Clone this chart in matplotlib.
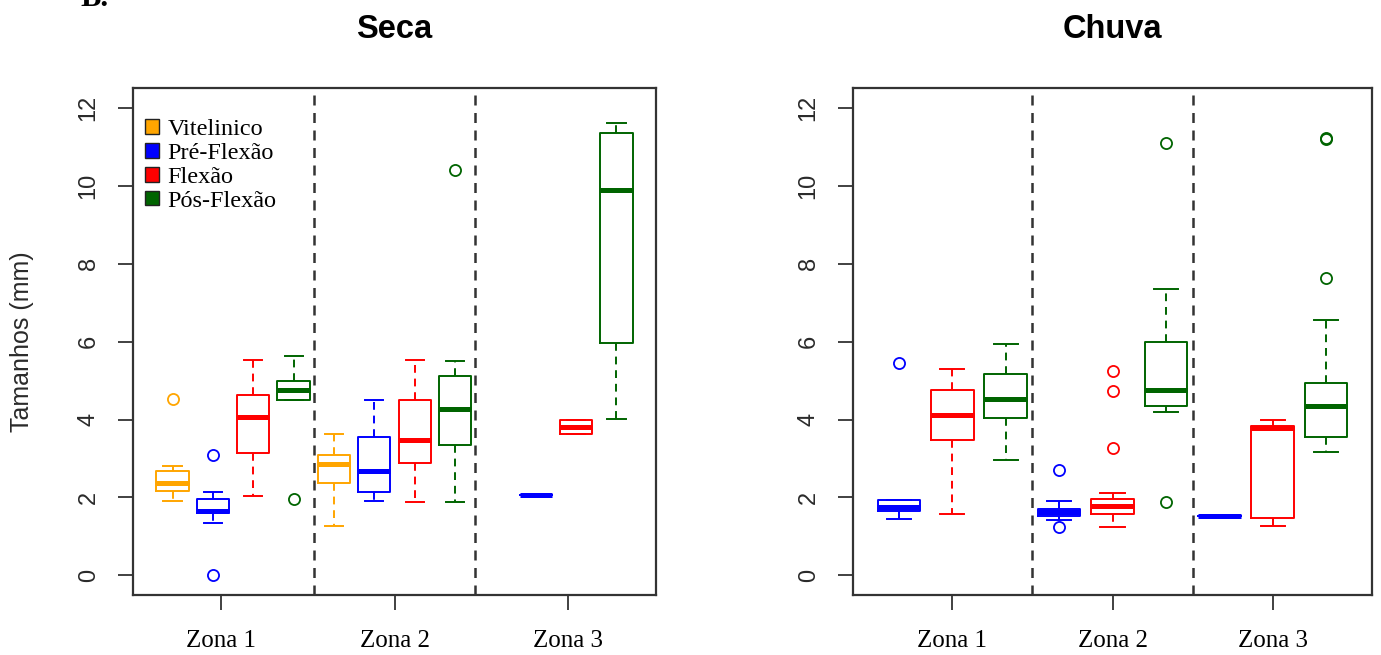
import matplotlib
matplotlib.use("Agg")
import matplotlib.pyplot as plt
from matplotlib.patches import Patch

# cores dos estágios (como no R)
cores = {"Vitelinico": "#FFA500", "Pré-Flexão": "#0000FF",
         "Flexão": "#FF0000", "Pós-Flexão": "#006400"}
estagios = list(cores.keys())
zonas = ["Zona 1", "Zona 2", "Zona 3"]

# --- Seca: posições 1..12 (Vitelinico da Zona 3 ausente) ---
seca_pos    = [1, 2, 3, 4, 5, 6, 7, 8, 10, 11, 12]
seca_est    = ["Vitelinico", "Pré-Flexão", "Flexão", "Pós-Flexão",
               "Vitelinico", "Pré-Flexão", "Flexão", "Pós-Flexão",
               "Pré-Flexão", "Flexão", "Pós-Flexão"]
seca_min    = [1.91, 1.33, 2.03, 4.49, 1.27, 1.90, 1.87, 1.87, 2.07, 3.64, 4.02]
seca_q1     = [2.17, 1.59, 3.13, 4.49, 2.37, 2.13, 2.87, 3.34, 2.07, 3.64, 5.96]
seca_med    = [2.37, 1.64, 4.07, 4.75, 2.85, 2.67, 3.47, 4.28, 2.07, 3.81, 9.90]
seca_q3     = [2.67, 1.95, 4.62, 4.99, 3.08, 3.56, 4.50, 5.12, 2.07, 3.98, 11.37]
seca_max    = [2.80, 2.13, 5.54, 5.63, 3.64, 4.50, 5.54, 5.50, 2.07, 3.98, 11.63]
seca_out    = [[4.53], [3.10, 0.0], [], [1.95], [], [], [], [10.41], [], [], []]
seca_ticks  = [2.2, 6.5, 10.8]
seca_div    = [4.5, 8.5]

# --- Chuva: posições 1..9 (sem Vitelinico) ---
chuva_pos   = [1, 2, 3, 4, 5, 6, 7, 8, 9]
chuva_est   = ["Pré-Flexão", "Flexão", "Pós-Flexão"] * 3
chuva_min   = [1.44, 1.58, 2.96, 1.41, 1.23, 4.19, 1.52, 1.27, 3.17]
chuva_q1    = [1.65, 3.47, 4.03, 1.52, 1.58, 4.35, 1.52, 1.48, 3.56]
chuva_med   = [1.76, 4.11, 4.53, 1.62, 1.79, 4.77, 1.52, 3.79, 4.36]
chuva_q3    = [1.92, 4.75, 5.17, 1.69, 1.95, 6.00, 1.52, 3.84, 4.95]
chuva_max   = [1.92, 5.29, 5.93, 1.90, 2.12, 7.35, 1.52, 3.98, 6.55]
chuva_out   = [[5.46], [], [], [2.71, 1.23], [5.24, 4.74, 3.26],
               [11.11, 1.87], [], [], [11.21, 11.23, 7.64]]
chuva_ticks = [2, 5, 8]
chuva_div   = [3.5, 6.5]

cinza = "#333333"
sans = "Liberation Sans"
serif = "Liberation Serif"


def painel(ax, titulo, pos, est, vmin, q1, med, q3, vmax, out, ticks, div):
    for i in range(len(pos)):
        c = cores[est[i]]
        st = [dict(whislo=vmin[i], q1=q1[i], med=med[i], q3=q3[i],
                   whishi=vmax[i], fliers=out[i])]
        ax.bxp(st, positions=[pos[i]], widths=0.8, capwidths=0.45,
               boxprops=dict(color=c, lw=1.4),
               whiskerprops=dict(color=c, lw=1.4, linestyle=(0, (4, 3))),
               capprops=dict(color=c, lw=1.4),
               medianprops=dict(color=c, lw=3.6, solid_capstyle="butt"),
               flierprops=dict(marker="o", markerfacecolor="none",
                               markeredgecolor=c, markersize=8, markeredgewidth=1.3))
    for d in div:
        ax.axvline(d, color=cinza, lw=1.8, linestyle=(0, (4, 3)))
    n = max(pos)
    ext = n * 0.04
    ax.set_xlim(0.5 - ext, n + 0.5 + ext)
    ax.set_ylim(-0.51, 12.52)
    ax.set_yticks(range(0, 13, 2))
    ax.set_yticklabels([str(v) for v in range(0, 13, 2)], rotation=90,
                       va="center", fontsize=17, family=sans, color="#2a2a2a")
    ax.set_xticks(ticks)
    ax.set_xticklabels(zonas, fontsize=18, family=serif)
    ax.tick_params(axis="y", length=11, width=1.3, color=cinza, pad=13)
    ax.tick_params(axis="x", length=11, width=1.3, color=cinza, pad=14)
    for s in ax.spines.values():
        s.set_color(cinza)
        s.set_linewidth(1.6)
    ax.set_title(titulo, fontsize=23.5, fontweight="bold", family=sans, pad=36)


fig = plt.figure(figsize=(13.81, 6.55), dpi=100)
ax1 = fig.add_axes([133 / 1381, 60 / 655, 523 / 1381, 507 / 655])
ax2 = fig.add_axes([853 / 1381, 60 / 655, 519 / 1381, 507 / 655])

painel(ax1, "Seca", seca_pos, seca_est, seca_min, seca_q1, seca_med, seca_q3,
       seca_max, seca_out, seca_ticks, seca_div)
painel(ax2, "Chuva", chuva_pos, chuva_est, chuva_min, chuva_q1, chuva_med,
       chuva_q3, chuva_max, chuva_out, chuva_ticks, chuva_div)

ax1.set_ylabel("Tamanhos (mm)", fontsize=18, family=sans, color="#2a2a2a")
ax1.yaxis.set_label_coords(-0.19, 0.5)

handles = [Patch(facecolor=cores[e], edgecolor="#222222", lw=1.0) for e in estagios]
ax1.legend(handles, estagios, loc="upper left", bbox_to_anchor=(-0.018, 0.982),
           frameon=False, handlelength=0.55, handleheight=0.55, handletextpad=0.35,
           labelspacing=0.12, borderaxespad=0.5,
           prop=dict(family=serif, size=17.5))

fig.text(80 / 1381, 1 - 6 / 655, "B.", fontsize=22, fontweight="bold",
         family=serif, va="baseline")

fig.savefig("out.png", dpi=100)
